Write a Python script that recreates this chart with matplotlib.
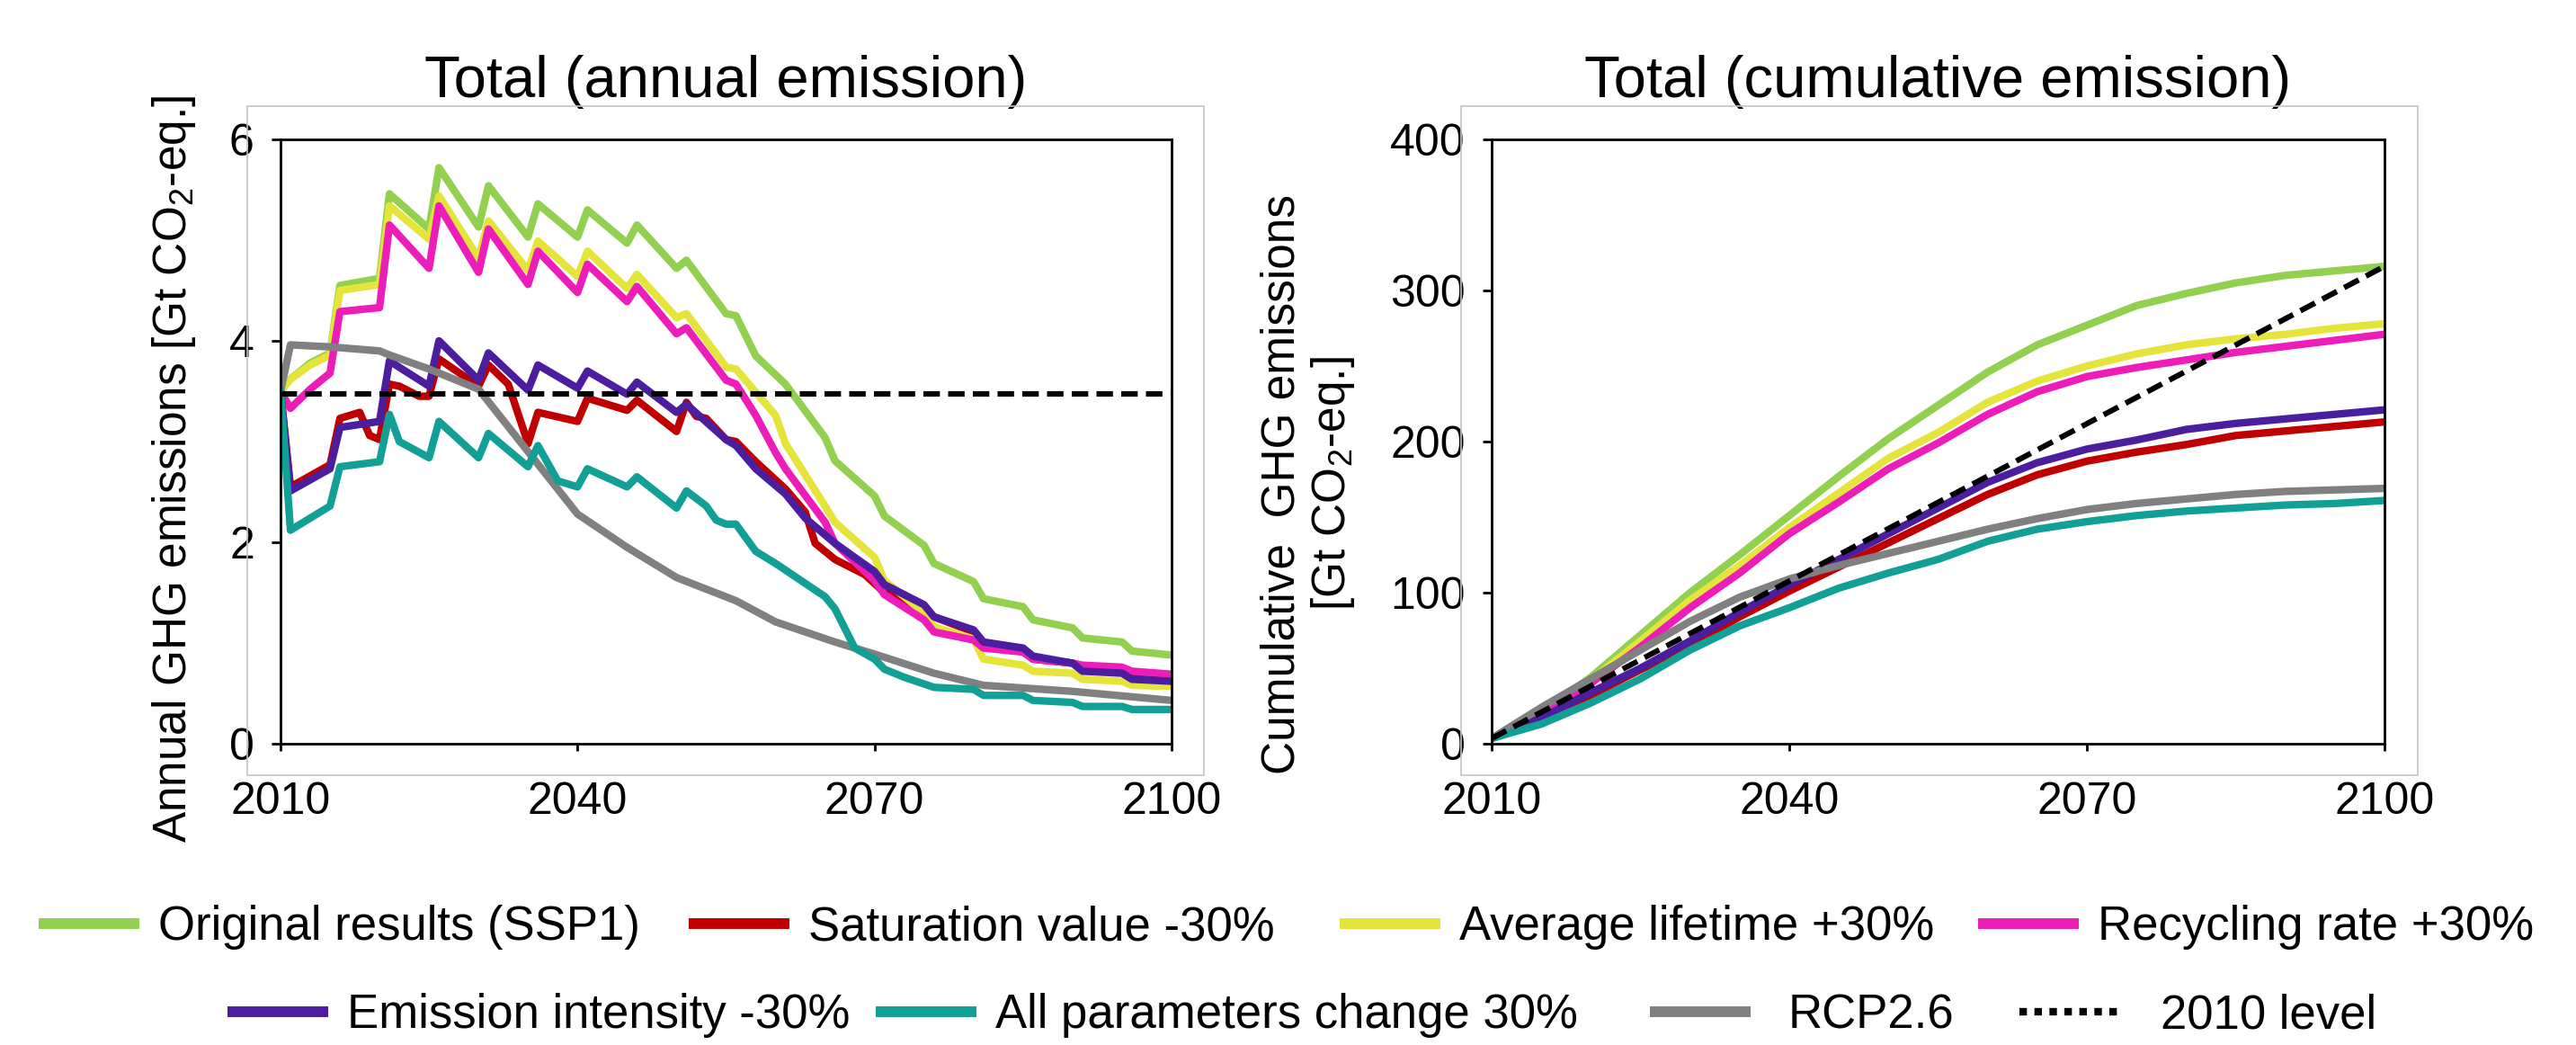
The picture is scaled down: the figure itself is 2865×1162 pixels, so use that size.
import matplotlib
matplotlib.use('Agg')
import matplotlib.pyplot as plt
from matplotlib.lines import Line2D
from matplotlib.patches import Rectangle

plt.rcParams['font.family'] = ['Liberation Sans', 'DejaVu Sans']
plt.rcParams['mathtext.fontset'] = 'custom'
plt.rcParams['mathtext.rm'] = 'Liberation Sans'

# ---- annual emissions [Gt CO2-eq.] (vertices of each curve) ----
orig_yr = [2010, 2011, 2013, 2015, 2016, 2020, 2021, 2025, 2026, 2030, 2031, 2035, 2036, 2040, 2041,
           2045, 2046, 2050, 2051, 2055, 2056, 2058, 2061, 2065, 2066, 2070, 2071, 2075, 2076, 2080,
           2081, 2085, 2086, 2090, 2091, 2095, 2096, 2100]
orig_an = [3.50, 3.62, 3.78, 3.88, 4.55, 4.62, 5.46, 5.11, 5.72, 5.13, 5.54, 5.03, 5.36, 5.03, 5.30,
           4.97, 5.15, 4.72, 4.80, 4.27, 4.25, 3.85, 3.57, 3.04, 2.81, 2.46, 2.26, 1.97, 1.79, 1.61,
           1.44, 1.36, 1.23, 1.15, 1.05, 1.01, 0.92, 0.88]

sat_yr = [2010, 2011, 2015, 2016, 2018, 2019, 2020, 2021, 2022, 2024, 2025, 2026, 2030, 2031, 2033,
          2035, 2036, 2040, 2041, 2045, 2046, 2050, 2051, 2052, 2053, 2055, 2056, 2058, 2061, 2063,
          2064, 2066, 2069, 2071, 2074, 2076, 2080, 2081, 2085, 2086, 2090, 2091, 2095, 2096, 2100]
sat_an = [3.50, 2.55, 2.77, 3.23, 3.29, 3.06, 3.02, 3.57, 3.55, 3.45, 3.45, 3.82, 3.55, 3.76, 3.57,
          2.98, 3.29, 3.20, 3.43, 3.31, 3.41, 3.10, 3.39, 3.25, 3.23, 3.02, 3.00, 2.80, 2.53, 2.30,
          1.99, 1.83, 1.68, 1.50, 1.38, 1.26, 1.11, 0.99, 0.92, 0.84, 0.80, 0.76, 0.72, 0.66, 0.62]

life_yr = [2010, 2011, 2013, 2015, 2016, 2020, 2021, 2025, 2026, 2030, 2031, 2035, 2036, 2040, 2041,
           2045, 2046, 2050, 2051, 2055, 2056, 2060, 2061, 2065, 2066, 2070, 2071, 2075, 2076, 2080,
           2081, 2085, 2086, 2090, 2091, 2095, 2096, 2100]
life_an = [3.50, 3.62, 3.76, 3.86, 4.50, 4.56, 5.34, 5.01, 5.44, 4.82, 5.19, 4.70, 4.99, 4.64, 4.89,
           4.52, 4.66, 4.23, 4.27, 3.74, 3.72, 3.26, 2.98, 2.36, 2.20, 1.85, 1.62, 1.30, 1.16, 1.04,
           0.84, 0.78, 0.72, 0.70, 0.64, 0.62, 0.58, 0.57]

recyc_yr = [2010, 2011, 2013, 2015, 2016, 2020, 2021, 2025, 2026, 2030, 2031, 2035, 2036, 2040, 2041,
            2045, 2046, 2050, 2051, 2055, 2056, 2058, 2060, 2061, 2065, 2066, 2070, 2071, 2075, 2076,
            2080, 2081, 2085, 2086, 2090, 2091, 2095, 2096, 2100]
recyc_an = [3.50, 3.33, 3.52, 3.68, 4.29, 4.33, 5.15, 4.72, 5.34, 4.68, 5.11, 4.56, 4.89, 4.48, 4.76,
            4.39, 4.54, 4.07, 4.13, 3.61, 3.57, 3.26, 2.89, 2.73, 2.20, 1.99, 1.62, 1.48, 1.23, 1.11,
            1.03, 0.95, 0.91, 0.84, 0.80, 0.78, 0.76, 0.72, 0.69]

intens_yr = [2010, 2011, 2015, 2016, 2020, 2021, 2025, 2026, 2030, 2031, 2035, 2036, 2040, 2041, 2045,
             2046, 2050, 2051, 2055, 2056, 2058, 2061, 2063, 2066, 2070, 2071, 2075, 2076, 2080, 2081,
             2085, 2086, 2090, 2091, 2095, 2096, 2100]
intens_an = [3.50, 2.51, 2.73, 3.14, 3.20, 3.80, 3.55, 4.00, 3.61, 3.88, 3.51, 3.76, 3.53, 3.70, 3.47,
             3.59, 3.29, 3.37, 3.02, 2.96, 2.73, 2.48, 2.24, 1.99, 1.71, 1.58, 1.38, 1.26, 1.13, 1.01,
             0.95, 0.87, 0.80, 0.72, 0.70, 0.64, 0.62]

allp_yr = [2010, 2011, 2015, 2016, 2020, 2021, 2022, 2025, 2026, 2030, 2031, 2035, 2036, 2038, 2040,
           2041, 2045, 2046, 2050, 2051, 2053, 2054, 2055, 2056, 2058, 2060, 2065, 2066, 2068, 2070,
           2071, 2073, 2076, 2080, 2081, 2085, 2086, 2090, 2091, 2095, 2096, 2100]
allp_an = [3.50, 2.12, 2.36, 2.75, 2.80, 3.27, 3.00, 2.84, 3.20, 2.84, 3.08, 2.75, 2.96, 2.61, 2.55,
           2.73, 2.55, 2.65, 2.34, 2.51, 2.36, 2.22, 2.18, 2.18, 1.91, 1.79, 1.46, 1.34, 0.95, 0.84,
           0.74, 0.66, 0.56, 0.54, 0.48, 0.48, 0.43, 0.41, 0.37, 0.37, 0.34, 0.34]

rcp_yr = [2010, 2011, 2015, 2020, 2021, 2025, 2030, 2035, 2040, 2045, 2050, 2056, 2060, 2066, 2070,
          2076, 2081, 2090, 2100]
rcp_an = [3.50, 3.96, 3.94, 3.90, 3.86, 3.72, 3.52, 2.90, 2.28, 1.95, 1.65, 1.42, 1.21, 1.01, 0.89,
          0.70, 0.58, 0.52, 0.43]

level_yr = [2010, 2100]
level_an = [3.47, 3.47]

# ---- cumulative emissions [Gt CO2-eq.] ----
cum_yr = [2010, 2015, 2020, 2025, 2030, 2035, 2040, 2045, 2050, 2055, 2060, 2065, 2070, 2075, 2080,
          2085, 2090, 2095, 2100]
orig_cum = [3.5, 21, 44, 72, 100, 125, 151, 177, 202, 224, 246, 264, 277, 290, 298, 305, 310, 313, 316]
sat_cum = [3.5, 17, 32, 49, 65, 84, 101, 117, 133, 149, 165, 178, 187, 193, 198, 204, 207, 210, 213]
life_cum = [3.5, 21, 42, 68, 95, 118, 143, 166, 189, 206, 226, 240, 250, 258, 264, 268, 271, 275, 278]
recyc_cum = [3.5, 19, 40, 64, 90, 113, 139, 160, 182, 199, 218, 233, 243, 249, 254, 259, 263, 267, 271]
intens_cum = [3.5, 17, 34, 50, 68, 87, 105, 122, 139, 156, 173, 186, 195, 201, 208, 212, 215, 218, 221]
allp_cum = [3.5, 13, 27, 43, 62, 78, 90, 103, 113, 122, 134, 142, 147, 151, 154, 156, 158, 159, 161]
rcp_cum = [3.5, 24, 43, 62, 81, 97, 109, 118, 126, 134, 142, 149, 155, 159, 162, 165, 167, 168, 169]
level_cum_yr = [2010, 2100]
level_cum = [3.5, 316]

labels = ['Original results (SSP1)', 'Saturation value -30%', 'Average lifetime +30%',
          'Recycling rate +30%', 'Emission intensity -30%', 'All parameters change 30%',
          'RCP2.6', '2010 level']
colors = ['#92D050', '#C00000', '#E4E43A', '#EC1DB9', '#4A1E9E', '#12A096', '#808080', 'black']

annual = [(orig_yr, orig_an), (sat_yr, sat_an), (life_yr, life_an), (recyc_yr, recyc_an),
          (intens_yr, intens_an), (rcp_yr, rcp_an), (allp_yr, allp_an)]
cumul = [orig_cum, sat_cum, life_cum, recyc_cum, intens_cum, rcp_cum, allp_cum]
series_col = [colors[0], colors[1], colors[2], colors[3], colors[4], colors[6], colors[5]]

W, H = 2865, 1162
fig = plt.figure(figsize=(W / 100, H / 100), dpi=100)
ax1 = fig.add_axes([312 / W, 1 - 827 / H, 991 / W, 672 / H])
ax2 = fig.add_axes([1659 / W, 1 - 827 / H, 993 / W, 672 / H])

# light chart-area borders
for x0 in (275, 1625):
    fig.add_artist(Rectangle((x0 / W, 1 - 862 / H), 1064 / W, 744 / H, transform=fig.transFigure,
                             fill=False, ec='#c4c4c4', lw=1.2))

LW = 6
for (yr, val), c in zip(annual, series_col):
    ax1.plot(yr, val, color=c, lw=LW, solid_joinstyle='round')
ax1.plot(level_yr, level_an, color='black', lw=4.4, linestyle=(0, (3, 1.5)))

for val, c in zip(cumul, series_col):
    ax2.plot(cum_yr, val, color=c, lw=LW)
ax2.plot(level_cum_yr, level_cum, color='black', lw=4.4, linestyle=(0, (3, 1.5)))

for ax, ymax, yt, ypad in ((ax1, 6, [0, 2, 4, 6], 14), (ax2, 400, [0, 100, 200, 300, 400], 14)):
    ax.set_xlim(2010, 2100)
    ax.set_ylim(0, ymax)
    ax.set_xticks([2010, 2040, 2070, 2100])
    ax.set_yticks(yt)
    for s in ax.spines.values():
        s.set_linewidth(2)
    ax.tick_params(axis='x', direction='out', length=6, width=2, pad=24, labelsize=36)
    ax.tick_params(axis='y', direction='out', length=7, width=2, pad=ypad, labelsize=36)

ax1.set_title('Total (annual emission)', fontsize=47, pad=34)
ax2.set_title('Total (cumulative emission)', fontsize=47, pad=34)

ax1.text(-0.12, 0.455, 'Annual GHG emissions [Gt CO$_\\mathrm{2}$-eq.]', rotation=90,
         ha='center', va='center', fontsize=37, transform=ax1.transAxes)
ax2.text(-0.205, 0.43, 'Cumulative  GHG emissions\n[Gt CO$_\\mathrm{2}$-eq.]', rotation=90,
         ha='center', va='center', multialignment='center', linespacing=1.15,
         fontsize=37, transform=ax2.transAxes)

# legend entries placed in two rows under the panels
handles = [Line2D([], [], color=c, lw=8.6, solid_capstyle='butt') for c in colors[:7]]
handles.append(Line2D([], [], color='black', lw=6, linestyle=(0, (1, 1))))
entry_pos = [(43, 1031, 0.4), (766, 1031, 0.4), (1490, 1031, 0.4), (2200, 1031, 0.4),
             (253, 1129, 0.4), (974, 1129, 0.4), (1835, 1129, 0.8), (2246, 1129, 0.85)]
for h, lab, (x, y, tp) in zip(handles, labels, entry_pos):
    fig.legend([h], [lab], loc='center left', bbox_to_anchor=(x / W, 1 - y / H), frameon=False,
               fontsize=38, handlelength=2.12, handletextpad=tp, borderpad=0, borderaxespad=0)

fig.savefig('out.png', dpi=100)
